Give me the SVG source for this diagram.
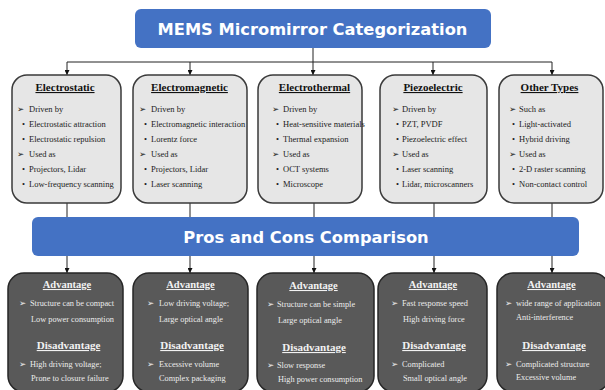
<svg xmlns="http://www.w3.org/2000/svg" width="605" height="390" viewBox="0 0 605 390">
<style>
.hdr{fill:#4472c4}
.hdrt{font-family:"DejaVu Sans",Verdana,sans-serif;font-weight:bold;font-size:16.3px;fill:#fff;text-anchor:middle}
.top{fill:#e6e6e6;stroke:#3a3a3a;stroke-width:1.5}
.bot{fill:#595959;stroke:#262626;stroke-width:1.5}
.tt{font-family:"Liberation Serif","Times New Roman",serif;font-weight:bold;font-size:11px;fill:#111;text-anchor:middle;text-decoration:underline}
.tx{font-family:"Liberation Serif","Times New Roman",serif;font-size:8.5px;fill:#222}
.ar{font-family:"DejaVu Sans",sans-serif;font-size:8.5px;fill:#222}
.bt{font-family:"Liberation Serif","Times New Roman",serif;font-weight:bold;font-size:10.5px;fill:#f2f2f2;text-anchor:middle;text-decoration:underline}
.bd{font-family:"Liberation Serif","Times New Roman",serif;font-weight:bold;font-size:11px;fill:#f2f2f2;text-anchor:middle;text-decoration:underline}
.bx{font-family:"Liberation Serif","Times New Roman",serif;font-size:8.3px;fill:#ececec}
.ba{font-family:"DejaVu Sans",sans-serif;font-size:8.5px;fill:#ececec}
.ln{stroke:#222;stroke-width:1;fill:none}
</style>
<defs>
<marker id="ah" viewBox="0 0 6 6" refX="6" refY="3" markerWidth="5" markerHeight="5" markerUnits="userSpaceOnUse" orient="auto">
<path d="M0,0 L6,3 L0,6 Z" fill="#111"/>
</marker>
</defs>

<g id="connectors">
<path class="ln" d="M313,48 V62"/>
<path class="ln" d="M67,62 H552"/>
<path class="ln" d="M67,62 V75" marker-end="url(#ah)"/>
<path class="ln" d="M190,62 V75" marker-end="url(#ah)"/>
<path class="ln" d="M313,62 V75" marker-end="url(#ah)"/>
<path class="ln" d="M433,62 V75" marker-end="url(#ah)"/>
<path class="ln" d="M552,62 V75" marker-end="url(#ah)"/>
<path class="ln" d="M67,203 V217"/>
<path class="ln" d="M190,203 V217"/>
<path class="ln" d="M314,203 V217"/>
<path class="ln" d="M434,203 V217"/>
<path class="ln" d="M552,203 V217"/>
<path class="ln" d="M67,256 V273" marker-end="url(#ah)"/>
<path class="ln" d="M190,256 V273" marker-end="url(#ah)"/>
<path class="ln" d="M314,256 V273" marker-end="url(#ah)"/>
<path class="ln" d="M434,256 V273" marker-end="url(#ah)"/>
<path class="ln" d="M552,256 V273" marker-end="url(#ah)"/>
</g>

<g id="title">
<rect class="hdr" x="135" y="9" width="356" height="39" rx="6"/>
<text class="hdrt" x="312.5" y="34.5">MEMS Micromirror Categorization</text>
</g>

<g id="electrostatic">
<rect class="top" x="12" y="75" width="109" height="128" rx="15"/>
<text class="tt" x="65" y="91">Electrostatic</text>
<text class="ar" x="17" y="112">➢</text><text class="tx" x="29" y="112">Driven by</text>
<text class="tx" x="22" y="127">•</text><text class="tx" x="29" y="127">Electrostatic attraction</text>
<text class="tx" x="22" y="142">•</text><text class="tx" x="29" y="142">Electrostatic repulsion</text>
<text class="ar" x="17" y="157">➢</text><text class="tx" x="29" y="157">Used as</text>
<text class="tx" x="22" y="172">•</text><text class="tx" x="29" y="172">Projectors, Lidar</text>
<text class="tx" x="22" y="187">•</text><text class="tx" x="29" y="187">Low-frequency scanning</text>
</g>

<g id="electromagnetic">
<rect class="top" x="133" y="75" width="114" height="128" rx="15"/>
<text class="tt" x="189.5" y="91">Electromagnetic</text>
<text class="ar" x="139" y="112">➢</text><text class="tx" x="151" y="112">Driven by</text>
<text class="tx" x="144" y="127">•</text><text class="tx" x="151" y="127">Electromagnetic interaction</text>
<text class="tx" x="144" y="142">•</text><text class="tx" x="151" y="142">Lorentz force</text>
<text class="ar" x="139" y="157">➢</text><text class="tx" x="151" y="157">Used as</text>
<text class="tx" x="144" y="172">•</text><text class="tx" x="151" y="172">Projectors, Lidar</text>
<text class="tx" x="144" y="187">•</text><text class="tx" x="151" y="187">Laser scanning</text>
</g>

<g id="electrothermal">
<rect class="top" x="258" y="75" width="104" height="128" rx="15"/>
<text class="tt" x="314.5" y="91">Electrothermal</text>
<text class="ar" x="272" y="112">➢</text><text class="tx" x="283" y="112">Driven by</text>
<text class="tx" x="276" y="127">•</text><text class="tx" x="283" y="127">Heat-sensitive materials</text>
<text class="tx" x="276" y="142">•</text><text class="tx" x="283" y="142">Thermal expansion</text>
<text class="ar" x="272" y="157">➢</text><text class="tx" x="283" y="157">Used as</text>
<text class="tx" x="276" y="172">•</text><text class="tx" x="283" y="172">OCT systems</text>
<text class="tx" x="276" y="187">•</text><text class="tx" x="283" y="187">Microscope</text>
</g>

<g id="piezoelectric">
<rect class="top" x="380" y="75" width="107" height="128" rx="15"/>
<text class="tt" x="433" y="91">Piezoelectric</text>
<text class="ar" x="392" y="112">➢</text><text class="tx" x="402" y="112">Driven by</text>
<text class="tx" x="396" y="127">•</text><text class="tx" x="402" y="127">PZT, PVDF</text>
<text class="tx" x="396" y="142">•</text><text class="tx" x="402" y="142">Piezoelectric effect</text>
<text class="ar" x="392" y="157">➢</text><text class="tx" x="402" y="157">Used as</text>
<text class="tx" x="396" y="172">•</text><text class="tx" x="402" y="172">Laser scanning</text>
<text class="tx" x="396" y="187">•</text><text class="tx" x="402" y="187">Lidar, microscanners</text>
</g>

<g id="other-types">
<rect class="top" x="499" y="75" width="104" height="128" rx="15"/>
<text class="tt" x="549.5" y="91">Other Types</text>
<text class="ar" x="509" y="112">➢</text><text class="tx" x="519" y="112">Such as</text>
<text class="tx" x="512" y="127">•</text><text class="tx" x="519" y="127">Light-activated</text>
<text class="tx" x="512" y="142">•</text><text class="tx" x="519" y="142">Hybrid driving</text>
<text class="ar" x="509" y="157">➢</text><text class="tx" x="519" y="157">Used as</text>
<text class="tx" x="512" y="172">•</text><text class="tx" x="519" y="172">2-D raster scanning</text>
<text class="tx" x="512" y="187">•</text><text class="tx" x="519" y="187">Non-contact control</text>
</g>

<g id="pros-cons">
<rect class="hdr" x="32" y="217" width="547" height="39" rx="6"/>
<text class="hdrt" x="306" y="242.5">Pros and Cons Comparison</text>
</g>

<g id="pc-electrostatic">
<rect class="bot" x="8" y="273" width="115" height="119" rx="16"/>
<text class="bt" x="67" y="288">Advantage</text>
<text class="ba" x="19" y="306">➢</text><text class="bx" x="30" y="306">Structure can be compact</text>
<text class="bx" x="31" y="322">Low power  consumption</text>
<text class="bd" x="68.5" y="349">Disadvantage</text>
<text class="ba" x="19" y="367">➢</text><text class="bx" x="30" y="367">High driving voltage;</text>
<text class="bx" x="31" y="381">Prone to closure failure</text>
</g>

<g id="pc-electromagnetic">
<rect class="bot" x="133" y="273" width="115" height="119" rx="16"/>
<text class="bt" x="190.5" y="288">Advantage</text>
<text class="ba" x="147" y="306">➢</text><text class="bx" x="159" y="306">Low driving voltage;</text>
<text class="bx" x="159" y="322">Large optical angle</text>
<text class="bd" x="192" y="349">Disadvantage</text>
<text class="ba" x="147" y="367">➢</text><text class="bx" x="159" y="367">Excessive volume</text>
<text class="bx" x="159" y="381">Complex packaging</text>
</g>

<g id="pc-electrothermal">
<rect class="bot" x="257" y="273" width="117" height="119" rx="16"/>
<text class="bt" x="313.5" y="289">Advantage</text>
<text class="ba" x="267" y="307">➢</text><text class="bx" x="277" y="307">Structure can be simple</text>
<text class="bx" x="278" y="323">Large optical angle</text>
<text class="bd" x="314" y="351">Disadvantage</text>
<text class="ba" x="267" y="368">➢</text><text class="bx" x="277" y="368">Slow response</text>
<text class="bx" x="278" y="382">High power consumption</text>
</g>

<g id="pc-piezoelectric">
<rect class="bot" x="378" y="273" width="109" height="119" rx="16"/>
<text class="bt" x="433" y="288">Advantage</text>
<text class="ba" x="391" y="306">➢</text><text class="bx" x="402" y="306">Fast response speed</text>
<text class="bx" x="403" y="322">High driving force</text>
<text class="bd" x="434" y="349">Disadvantage</text>
<text class="ba" x="391" y="367">➢</text><text class="bx" x="402" y="367">Complicated</text>
<text class="bx" x="403" y="381">Small optical angle</text>
</g>

<g id="pc-other-types">
<rect class="bot" x="497" y="273" width="112" height="119" rx="16"/>
<text class="bt" x="551.5" y="288">Advantage</text>
<text class="ba" x="505" y="306">➢</text><text class="bx" x="516" y="306">wide range of application</text>
<text class="bx" x="516" y="320">Anti-interference</text>
<text class="bd" x="554" y="349">Disadvantage</text>
<text class="ba" x="505" y="367">➢</text><text class="bx" x="516" y="367">Complicated structure</text>
<text class="bx" x="516" y="380">Excessive volume</text>
</g>
</svg>
